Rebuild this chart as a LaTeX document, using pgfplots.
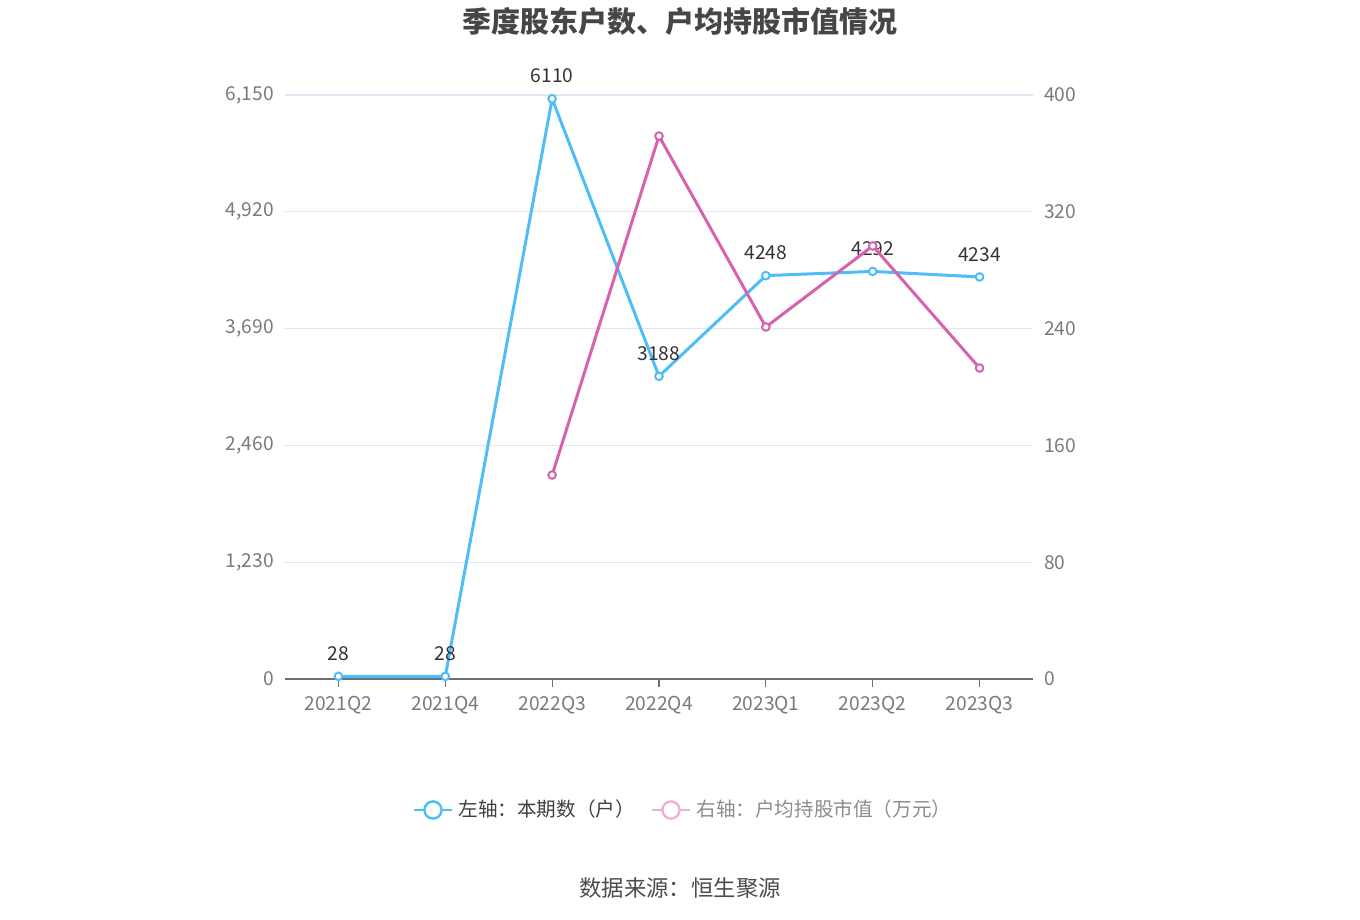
\documentclass[border=0pt]{standalone}
\usepackage{pgfplots}
\pgfplotsset{compat=1.18}
\usepackage{fontspec}
\setmainfont{Noto Sans CJK SC}
\definecolor{cblue}{HTML}{4FBDF6}
\definecolor{cpink}{HTML}{D563AD}
\definecolor{cpinkl}{HTML}{EBB1D6}
\definecolor{cgrid}{HTML}{E0E6F1}
\definecolor{caxis}{HTML}{6E7079}
\definecolor{ctick}{HTML}{7A7A7A}
\definecolor{ctitle}{HTML}{464646}
\begin{document}
\begin{tikzpicture}[x=1pt,y=1pt]
\path (0,0) rectangle (680,460);
\pgfplotsset{
  base/.style={
    at={(142.5pt,120.5pt)}, anchor=south west,
    scale only axis, width=374pt, height=292pt,
    xmin=-0.5, xmax=6.5,
    ymin=0,
    tick label style={font=\fontsize{9.6}{11}\selectfont, text=ctick},
    /pgf/number format/assume math mode=true,
    scaled y ticks=false,
    clip=false,
  }
}
% left axis
\begin{axis}[base,
  ymax=6150,
  ytick={0,1230,2460,3690,4920,6150},
  yticklabels={0,{1,230},{2,460},{3,690},{4,920},{6,150}},
  ymajorgrids, major grid style={cgrid, line width=0.6pt},
  axis x line*=bottom, axis y line*=left,
  y axis line style={draw=none},
  x axis line style={caxis, line width=0.6pt},
  xtick={0,...,6},
  xticklabels={2021Q2,2021Q4,2022Q3,2022Q4,2023Q1,2023Q2,2023Q3},
  x tick style={caxis, line width=0.6pt},
  major tick length=4pt,
  ytick style={draw=none},
  xtick align=outside,
  yticklabel style={xshift=-2pt},
  xticklabel style={yshift=-1pt},
  every node near coord/.append style={font=\fontsize{9.6}{11}\selectfont, text=black!80, yshift=4pt},
]
\addplot[cblue, line width=1.5pt, mark=*, mark size=1.9pt,
  mark options={fill=white, draw=cblue, line width=1pt},
  nodes near coords, point meta=explicit symbolic]
  coordinates {(0,28)[28] (1,28)[28] (2,6110)[6110] (3,3188)[3188] (4,4248)[4248] (5,4292)[4292] (6,4234)[4234]};
\end{axis}
% right axis
\begin{axis}[base,
  ymax=400,
  ytick={0,80,160,240,320,400},
  axis x line=none, axis y line*=right,
  y axis line style={draw=none},
  ytick style={draw=none},
  yticklabel style={xshift=2pt},
]
\addplot[cpink, line width=1.5pt, mark=*, mark size=1.9pt,
  mark options={fill=white, draw=cpink, line width=1pt}]
  coordinates {(2,139.7) (3,371.9) (4,241.1) (5,296.6) (6,213.0)};
\end{axis}
% title, legend, source
\node[font=\fontsize{14.5}{16}\selectfont\bfseries, text=ctitle] at (340,449.5) {季度股东户数、户均持股市值情况};
\begin{scope}
\draw[cblue, line width=1.4pt] (207,55) -- (226,55);
\draw[cblue, line width=1.2pt, fill=white] (216.5,55) circle (4.3);
\node[anchor=west, font=\fontsize{9.8}{11}\selectfont, text=black!75, inner sep=0] at (229,55.5) {左轴：本期数（户）};
\draw[cpinkl, line width=1.4pt] (326,55) -- (345,55);
\draw[cpinkl, line width=1.2pt, fill=white] (335.5,55) circle (4.3);
\node[anchor=west, font=\fontsize{9.8}{11}\selectfont, text=black!45, inner sep=0] at (348,55.5) {右轴：户均持股市值（万元）};
\end{scope}
\node[font=\fontsize{11.2}{13}\selectfont, text=black!70] at (340,16) {数据来源：恒生聚源};
\end{tikzpicture}
\end{document}
